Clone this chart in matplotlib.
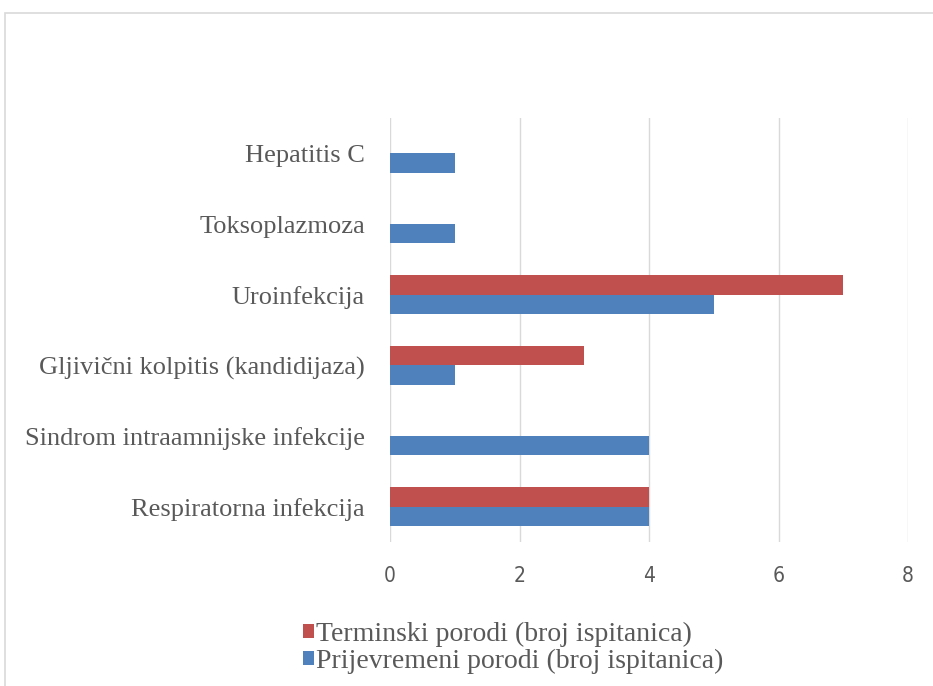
import matplotlib
matplotlib.use("Agg")
import matplotlib.pyplot as plt
from matplotlib.patches import Rectangle
import numpy as np

categories = ["Respiratorna infekcija", "Sindrom intraamnijske infekcije",
              "Gljivični kolpitis (kandidijaza)", "Uroinfekcija",
              "Toksoplazmoza", "Hepatitis C"]
terminski = [4, 0, 3, 7, 0, 0]
prijevremeni = [4, 4, 1, 5, 1, 1]
xticks = [0, 2, 4, 6, 8]
series_names = ["Terminski porodi (broj ispitanica)", "Prijevremeni porodi (broj ispitanica)"]

RED = "#C0504D"
BLUE = "#4F81BD"
TXT = "#595959"

fig = plt.figure(figsize=(9.33, 6.86), dpi=100)
fig.patches.append(Rectangle((5/933, -0.05), 1.1, (686-13)/686 + 0.05, transform=fig.transFigure,
                             fill=False, edgecolor="#D9D9D9", linewidth=1.2))
ax = fig.add_axes([390/933, (686-542)/686, (908-390)/933, (542-118)/686])

y = np.arange(len(categories))
h = 0.275
ax.barh(y - h/2, prijevremeni, height=h, color=BLUE, label=series_names[1], zorder=3)
ax.barh(y + h/2, terminski, height=h, color=RED, label=series_names[0], zorder=3)

ax.set_xlim(0, 8)
ax.set_ylim(-0.5, len(categories) - 0.5)
ax.set_xticks(xticks)
ax.set_xticklabels([str(t) for t in xticks], family="DejaVu Sans", fontstretch="condensed",
                   fontsize=15, color=TXT)
ax.set_yticks(y)
ax.set_yticklabels(categories, family="Liberation Serif", fontsize=19, color=TXT)
ax.tick_params(axis="both", length=0)
ax.tick_params(axis="x", pad=17)
ax.tick_params(axis="y", pad=18)
for s in ax.spines.values():
    s.set_visible(False)
ax.grid(axis="x", color="#D9D9D9", linewidth=1, zorder=0)

handles, labels = ax.get_legend_handles_labels()
leg = fig.legend(handles[::-1], labels[::-1], loc="center left", bbox_to_anchor=(278/933, 1 - 648/686),
                 frameon=False, ncol=1, handlelength=0.4, handleheight=0.4, handletextpad=0.08,
                 labelspacing=0.05, prop={"family": "Liberation Serif", "size": 20})
for t in leg.get_texts():
    t.set_color(TXT)

fig.savefig("out.png", dpi=100)
